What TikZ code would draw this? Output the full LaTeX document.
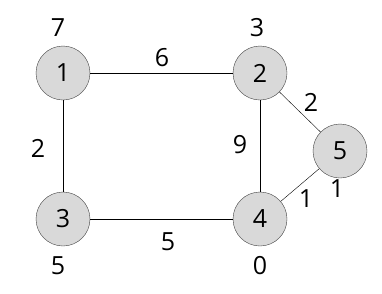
\documentclass[tikz,border=0pt]{standalone}
\usepackage{fontspec}
\setmainfont{Open Sans}
\usetikzlibrary{positioning}
\begin{document}
\begin{tikzpicture}[
        x=1pt, y=-1pt,
        vertex/.style={draw=black!75, circle, fill=black!15, minimum size=54pt, inner sep=0pt, font=\fontsize{25}{30}\selectfont},
        weight/.style={inner sep=1pt, font=\fontsize{25}{30}\selectfont}
    ]
    \useasboundingbox (0,0) rectangle (382,293);
    \node (v1) [vertex] at (63,73) {1};
    \node (v2) [vertex] at (260,73) {2};
    \node (v3) [vertex] at (63,219) {3};
    \node (v4) [vertex] at (260,219) {4};
    \node (v5) [vertex] at (340,151) {5};

    \draw (v1) -- (v2);
    \draw (v1) -- (v3);
    \draw (v3) -- (v4);
    \draw (v2) -- (v4);
    \draw (v2) -- (v5);
    \draw (v4) -- (v5);

    % edge weights
    \node (w12) [weight] at (162,58) {6};
    \node (w13) [weight] at (38,148) {2};
    \node (w34) [weight] at (168,242) {5};
    \node (w24) [weight] at (240,145) {9};
    \node (w25) [weight] at (311,102) {2};
    \node (w45) [weight] at (306,199) {1};

    % node values
    \node (d1) [weight] at (58,28) {7};
    \node (d2) [weight] at (257,28) {3};
    \node (d3) [weight] at (58,266) {5};
    \node (d4) [weight] at (260,266) {0};
    \node (d5) [weight] at (337,189) {1};
    \end{tikzpicture}
\end{document}
